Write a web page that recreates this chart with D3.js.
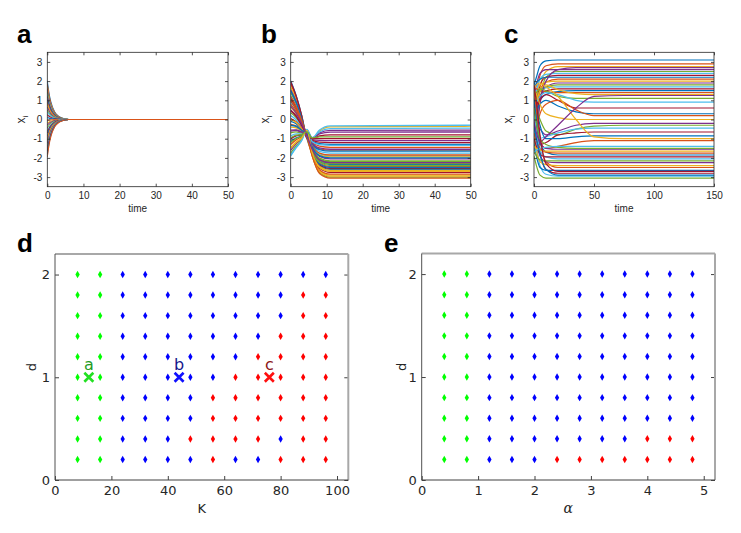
<!DOCTYPE html>
<html>
<head>
<meta charset="utf-8">
<script src="https://cdn.jsdelivr.net/npm/d3@7"></script>
<style>
  body { margin: 0; background: #fff; }
  .tk text { font-family: "Liberation Sans", Arial, sans-serif; font-size: 10px; fill: #262626; }
  .tk line { stroke: #262626; stroke-width: 0.8; }
  .gk text { font-family: "DejaVu Sans", sans-serif; font-size: 13px; fill: #262626; }
  .gk line { stroke: #404040; stroke-width: 1; }
</style>
</head>
<body>
<svg id="fig" width="741" height="533"></svg>
<script>
// panel a : sample times and trajectories x_i(t)
var timeA = [0, 0.5, 1, 2, 3, 4, 6, 50];
var trajA = [
  [2.0, 1.34, 0.9, 0.4, 0.18, 0.08, 0, 0],
  [1.85, 1.24, 0.83, 0.37, 0.17, 0.07, 0, 0],
  [1.7, 1.14, 0.77, 0.34, 0.15, 0.07, 0, 0],
  [1.6, 1.07, 0.72, 0.32, 0.14, 0.06, 0, 0],
  [1.45, 0.97, 0.65, 0.29, 0.13, 0.06, 0, 0],
  [1.3, 0.87, 0.59, 0.26, 0.12, 0.05, 0, 0],
  [1.2, 0.8, 0.54, 0.24, 0.11, 0.05, 0, 0],
  [1.05, 0.7, 0.47, 0.21, 0.09, 0.04, 0, 0],
  [0.9, 0.6, 0.41, 0.18, 0.08, 0.04, 0, 0],
  [0.8, 0.54, 0.36, 0.16, 0.07, 0.03, 0, 0],
  [0.65, 0.44, 0.29, 0.13, 0.06, 0.03, 0, 0],
  [0.5, 0.34, 0.23, 0.1, 0.05, 0.02, 0, 0],
  [0.4, 0.27, 0.18, 0.08, 0.04, 0.02, 0, 0],
  [0.25, 0.17, 0.11, 0.05, 0.02, 0.01, 0, 0],
  [0.1, 0.07, 0.05, 0.02, 0.01, 0, 0, 0],
  [-0.05, -0.03, -0.02, -0.01, 0, 0, 0, 0],
  [-0.2, -0.13, -0.09, -0.04, -0.02, -0.01, 0, 0],
  [-0.3, -0.2, -0.14, -0.06, -0.03, -0.01, 0, 0],
  [-0.45, -0.3, -0.2, -0.09, -0.04, -0.02, 0, 0],
  [-0.6, -0.4, -0.27, -0.12, -0.05, -0.02, 0, 0],
  [-0.7, -0.47, -0.32, -0.14, -0.06, -0.03, 0, 0],
  [-0.85, -0.57, -0.38, -0.17, -0.08, -0.03, 0, 0],
  [-1.0, -0.67, -0.45, -0.2, -0.09, -0.04, 0, 0],
  [-1.1, -0.74, -0.5, -0.22, -0.1, -0.04, 0, 0],
  [-1.25, -0.84, -0.56, -0.25, -0.11, -0.05, 0, 0],
  [-1.4, -0.94, -0.63, -0.28, -0.13, -0.06, 0, 0],
  [-1.5, -1.0, -0.68, -0.3, -0.14, -0.06, 0, 0],
  [-1.65, -1.1, -0.74, -0.33, -0.15, -0.07, 0, 0],
  [-1.8, -1.2, -0.81, -0.36, -0.16, -0.07, 0, 0],
  [-1.95, -1.31, -0.88, -0.39, -0.18, -0.08, 0, 0]
];

// panel b
var timeB = [0, 1.5, 3, 4.5, 6, 8, 11, 50];
var trajB = [
  [2.0, 1.25, 0.25, -0.99, -1.72, -2.41, -2.6, -2.6],
  [1.85, 1.15, 0.2, -0.97, -1.27, -1.53, -1.6, -1.6],
  [1.7, 1.04, 0.15, -0.95, -1.86, -2.67, -2.9, -2.9],
  [1.55, 0.94, 0.09, -0.94, -0.95, -0.7, -0.57, -0.55],
  [1.4, 0.83, 0.04, -0.92, -1.54, -2.06, -2.2, -2.2],
  [1.25, 0.73, -0.01, -0.9, -1.41, -1.79, -1.9, -1.9],
  [1.1, 0.62, -0.07, -0.88, -1.79, -2.54, -2.75, -2.75],
  [0.95, 0.52, -0.12, -0.86, -1.14, -1.26, -1.3, -1.3],
  [0.8, 0.41, -0.17, -0.85, -1.65, -2.28, -2.45, -2.45],
  [0.65, 0.31, -0.22, -0.83, -1.0, -0.6, -0.38, -0.35],
  [0.5, 0.2, -0.28, -0.81, -1.47, -1.92, -2.05, -2.05],
  [0.35, 0.1, -0.33, -0.79, -1.9, -2.76, -3.0, -3.0],
  [0.2, -0.01, -0.38, -0.77, -1.34, -1.66, -1.75, -1.75],
  [0.05, -0.12, -0.43, -0.76, -1.0, -0.85, -0.8, -0.8],
  [-0.1, -0.22, -0.49, -0.74, -1.61, -2.19, -2.35, -2.35],
  [-0.25, -0.33, -0.54, -0.72, -1.2, -1.39, -1.45, -1.45],
  [-0.4, -0.43, -0.59, -0.7, -1.77, -2.5, -2.7, -2.7],
  [-0.55, -0.54, -0.64, -0.68, -1.05, -1.09, -1.1, -1.1],
  [-0.7, -0.64, -0.7, -0.67, -1.52, -2.01, -2.15, -2.15],
  [-0.85, -0.75, -0.75, -0.65, -0.98, -0.65, -0.48, -0.45],
  [-1.0, -0.85, -0.8, -0.63, -1.7, -2.36, -2.55, -2.55],
  [-1.15, -0.96, -0.85, -0.61, -1.29, -1.57, -1.65, -1.65],
  [-1.3, -1.06, -0.9, -0.59, -1.83, -2.63, -2.85, -2.85],
  [-1.45, -1.17, -0.96, -0.58, -1.43, -1.84, -1.95, -1.95],
  [-1.6, -1.27, -1.01, -0.56, -0.97, -0.75, -0.66, -0.65],
  [-1.75, -1.38, -1.06, -0.54, -1.59, -2.14, -2.3, -2.3],
  [-1.9, -1.48, -1.12, -0.52, -0.95, -0.55, -0.33, -0.3],
  [1.95, 1.22, 0.23, -0.98, -1.09, -1.18, -1.2, -1.2],
  [1.5, 0.9, 0.08, -0.93, -1.68, -2.32, -2.5, -2.5],
  [1.0, 0.55, -0.1, -0.87, -1.38, -1.75, -1.85, -1.85],
  [0.0, -0.15, -0.45, -0.75, -1.88, -2.71, -2.95, -2.95],
  [-0.6, -0.57, -0.66, -0.68, -1.25, -1.48, -1.55, -1.55],
  [-1.2, -0.99, -0.87, -0.6, -1.63, -2.23, -2.4, -2.4],
  [-1.85, -1.45, -1.1, -0.53, -1.16, -1.31, -1.35, -1.35],
  [0.45, 0.17, -0.29, -0.8, -1.0, -1.0, -1.0, -1.0],
  [-0.3, -0.36, -0.56, -0.71, -1.45, -1.88, -2.0, -2.0],
  [1.2, 0.69, -0.03, -0.89, -1.92, -2.81, -3.05, -3.05],
  [-1.5, -1.2, -0.98, -0.57, -1.74, -2.45, -2.65, -2.65],
  [0.7, 0.34, -0.2, -0.83, -1.56, -2.1, -2.25, -2.25],
  [-0.95, -0.82, -0.78, -0.64, -0.96, -0.91, -0.9, -0.9]
];

// panel c
var timeC = [0, 2, 5, 10, 20, 35, 50, 75, 150];
var trajC = [
  [1.8, 2.2, 2.8, 3.05, 3.1, 3.1, 3.1, 3.1, 3.1],
  [0.5, 1.2, 2.3, 2.8, 2.9, 2.9, 2.9, 2.9, 2.9],
  [-0.8, 0.2, 1.6, 2.5, 2.75, 2.75, 2.75, 2.75, 2.75],
  [1.2, 1.8, 2.4, 2.6, 2.6, 2.6, 2.6, 2.6, 2.6],
  [-1.5, -0.5, 1.0, 2.2, 2.5, 2.5, 2.5, 2.5, 2.5],
  [0.9, 1.5, 2.1, 2.35, 2.4, 2.4, 2.4, 2.4, 2.4],
  [0.2, 0.8, 1.8, 2.2, 2.3, 2.3, 2.3, 2.3, 2.3],
  [1.6, 1.9, 2.1, 2.2, 2.2, 2.2, 2.2, 2.2, 2.2],
  [-0.3, 0.6, 1.5, 1.95, 2.1, 2.1, 2.1, 2.1, 2.1],
  [1.0, 1.4, 1.8, 1.95, 2.0, 2.0, 2.0, 2.0, 2.0],
  [-1.1, 0.0, 1.1, 1.7, 1.9, 1.9, 1.9, 1.9, 1.9],
  [0.7, 1.1, 1.5, 1.7, 1.8, 1.8, 1.8, 1.8, 1.8],
  [1.4, 1.5, 1.6, 1.65, 1.7, 1.7, 1.7, 1.7, 1.7],
  [0.1, 0.7, 1.2, 1.5, 1.6, 1.6, 1.6, 1.6, 1.6],
  [-0.6, 0.2, 1.0, 1.3, 1.45, 1.5, 1.5, 1.5, 1.5],
  [1.7, 1.6, 1.5, 1.45, 1.4, 1.4, 1.4, 1.4, 1.4],
  [0.4, 0.9, 1.5, 1.8, 1.55, 1.35, 1.3, 1.3, 1.3],
  [-1.8, -0.8, 0.8, 2.0, 2.6, 2.7, 2.7, 2.7, 2.7],
  [1.3, 1.4, 1.6, 1.5, 1.2, 1.1, 1.1, 1.1, 1.1],
  [0.6, 0.9, 1.2, 1.4, 1.3, 1.0, 0.9, 0.9, 0.9],
  [-0.2, 0.4, 1.0, 1.3, 1.0, 0.6, 0.6, 0.6, 0.6],
  [0.3, 0.5, 0.8, 1.0, 0.7, 0.4, 0.3, 0.3, 0.3],
  [-1.3, -0.5, 0.3, 0.8, 1.0, 0.5, 0.2, 0.2, 0.2],
  [1.5, 1.3, 0.8, 0.3, 0.1, 0.0, 0.0, 0.0, 0.0],
  [-0.4, -0.3, -0.5, -0.8, -0.6, -0.3, -0.2, -0.2, -0.2],
  [0.8, 0.5, 0.0, -0.6, -0.8, -0.5, -0.35, -0.3, -0.3],
  [-1.6, -1.2, -1.0, -0.9, -0.7, -0.5, -0.45, -0.45, -0.45],
  [-0.9, -1.1, -1.3, -1.2, -0.8, -0.7, -0.65, -0.65, -0.65],
  [1.1, 0.6, -0.3, -1.0, -1.0, -0.9, -0.85, -0.85, -0.85],
  [-0.1, -0.5, -1.2, -1.5, -1.4, -1.2, -1.1, -1.1, -1.1],
  [1.6, 1.8, 1.9, 1.7, 1.2, 0.0, -0.9, -1.0, -1.0],
  [-1.0, -1.3, -1.2, -0.9, -0.3, 0.6, 1.2, 1.25, 1.25],
  [-1.9, -2.4, -2.9, -3.05, -3.05, -3.05, -3.05, -3.05, -3.05],
  [-0.5, -1.3, -2.4, -2.85, -2.95, -2.95, -2.95, -2.95, -2.95],
  [0.8, -0.2, -1.7, -2.6, -2.8, -2.8, -2.8, -2.8, -2.8],
  [-1.2, -1.9, -2.5, -2.65, -2.65, -2.65, -2.65, -2.65, -2.65],
  [1.5, 0.5, -1.0, -2.2, -2.5, -2.5, -2.5, -2.5, -2.5],
  [-0.9, -1.6, -2.2, -2.35, -2.4, -2.4, -2.4, -2.4, -2.4],
  [-0.2, -0.9, -1.9, -2.2, -2.25, -2.25, -2.25, -2.25, -2.25],
  [-1.6, -1.9, -2.1, -2.15, -2.15, -2.15, -2.15, -2.15, -2.15],
  [0.3, -0.6, -1.6, -1.95, -2.05, -2.05, -2.05, -2.05, -2.05],
  [-1.0, -1.4, -1.8, -1.95, -1.95, -1.95, -1.95, -1.95, -1.95],
  [1.0, 0.0, -1.2, -1.7, -1.85, -1.85, -1.85, -1.85, -1.85],
  [-0.7, -1.1, -1.5, -1.7, -1.75, -1.75, -1.75, -1.75, -1.75],
  [-1.4, -1.5, -1.6, -1.65, -1.65, -1.65, -1.65, -1.65, -1.65],
  [-0.1, -0.7, -1.2, -1.5, -1.55, -1.55, -1.55, -1.55, -1.55],
  [0.6, -0.2, -1.0, -1.3, -1.45, -1.5, -1.5, -1.5, -1.5],
  [-1.7, -1.6, -1.5, -1.45, -1.4, -1.4, -1.4, -1.4, -1.4],
  [1.8, 0.9, -0.8, -2.3, -2.7, -2.7, -2.7, -2.7, -2.7],
  [-0.4, -1.0, -1.8, -2.6, -2.9, -2.9, -2.9, -2.9, -2.9]
];

var lineColors = ["#0072bd", "#d95319", "#edb120", "#7e2f8e", "#77ac30", "#4dbeee", "#a2142f"];

// panels d and e : parameter grids, rows from d = 2.0 down to d = 0.2
var gridK = [8, 16, 24, 32, 40, 48, 56, 64, 72, 80, 88, 96];
var gridAlpha = [0.4, 0.8, 1.2, 1.6, 2.0, 2.4, 2.8, 3.2, 3.6, 4.0, 4.4, 4.8];
var gridD = [2.0, 1.8, 1.6, 1.4, 1.2, 1.0, 0.8, 0.6, 0.4, 0.2];
var stateD = [
  "GGBBBBBBBBBB",
  "GGBBBBBBBBRR",
  "GGBBBBBBBBRR",
  "GGBBBBBBBRRR",
  "GGBBBBBBRRRR",
  "GGBBBBBRRRRR",
  "GGBBBBRRRRRR",
  "GGBBBBRRRRRR",
  "GGBBBRRRRBRR",
  "GGBBBBRBBRRR"
];
var stateE = [
  "GGBBBBBBBBBB",
  "GGBBBBBBBBBB",
  "GGBBBBBBBBBB",
  "GGBBBBBBBBBB",
  "GGBBBBBBBBBB",
  "GGBBBBBBBBBB",
  "GGBBBBBBBBBB",
  "GGBBBBBBBBBB",
  "GGBBBBBBBRRR",
  "GGBBBRRRRRRR"
];
var pickedK = [12, 44, 76];
var pickedD = [1, 1, 1];
var pickedName = ["a", "b", "c"];
var pickedState = ["G", "B", "R"];

var dotColor = { G: "#00ff00", B: "#0000ff", R: "#ff0000" };
var crossColor = { G: "#22e022", B: "#1010ff", R: "#ff1010" };
var nameColor = { G: "#249b24", B: "#16168c", R: "#8c1616" };

var svg = d3.select("#fig");
var plain = function(v) { return String(v); };

function panelLetter(t, x, y) {
  svg.append("text").attr("x", x).attr("y", y).text(t)
    .style("font-family", "'Liberation Sans', Arial, sans-serif")
    .style("font-weight", "bold").style("font-size", "26px").attr("fill", "#000");
}

function drawTraj(o) {
  var x = d3.scaleLinear().domain([0, o.xmax]).range([o.x0, o.x1]);
  var y = d3.scaleLinear().domain([-3.5, 3.5]).range([o.y1, o.y0]);
  var id = "clip" + o.letter;
  svg.append("clipPath").attr("id", id).append("rect")
    .attr("x", o.x0).attr("y", o.y0).attr("width", o.x1 - o.x0).attr("height", o.y1 - o.y0);

  var line = d3.line()
    .x(function(d, i) { return x(o.times[i]); })
    .y(function(d) { return y(d); })
    .curve(d3.curveMonotoneX);

  svg.append("g").attr("clip-path", "url(#" + id + ")")
    .selectAll("path").data(o.data).enter().append("path")
    .attr("d", line)
    .attr("fill", "none")
    .attr("stroke", function(d, i) { return lineColors[i % lineColors.length]; })
    .attr("stroke-width", o.lw);

  var yt = [-3, -2, -1, 0, 1, 2, 3];
  var ax = svg.append("g").attr("class", "tk");
  ax.append("g").attr("transform", "translate(" + o.x0 + ",0)")
    .call(d3.axisLeft(y).tickValues(yt).tickSize(-3).tickPadding(5).tickFormat(plain));
  ax.append("g").attr("transform", "translate(" + o.x1 + ",0)")
    .call(d3.axisRight(y).tickValues(yt).tickSize(-3).tickFormat(""));
  ax.append("g").attr("transform", "translate(0," + o.y1 + ")")
    .call(d3.axisBottom(x).tickValues(o.xticks).tickSize(-3).tickPadding(5).tickFormat(plain));
  ax.append("g").attr("transform", "translate(0," + o.y0 + ")")
    .call(d3.axisTop(x).tickValues(o.xticks).tickSize(-3).tickFormat(""));
  ax.selectAll(".domain").remove();

  svg.append("rect").attr("x", o.x0).attr("y", o.y0)
    .attr("width", o.x1 - o.x0).attr("height", o.y1 - o.y0)
    .attr("fill", "none").attr("stroke", "#262626").attr("stroke-width", 0.8);

  svg.append("text").attr("x", (o.x0 + o.x1) / 2).attr("y", o.y1 + 25)
    .attr("text-anchor", "middle").text("time")
    .style("font-family", "'Liberation Sans', Arial, sans-serif").style("font-size", "10px").attr("fill", "#262626");

  var yl = svg.append("text")
    .attr("transform", "translate(" + o.ylx + "," + ((o.y0 + o.y1) / 2) + ") rotate(-90)")
    .attr("text-anchor", "middle")
    .style("font-family", "'Liberation Sans', Arial, sans-serif").style("font-size", "12px").attr("fill", "#262626");
  yl.append("tspan").text("x");
  yl.append("tspan").attr("dy", 3).style("font-size", "8px").text("i");

  panelLetter(o.letter, o.lx, 43);
}

drawTraj({ letter: "a", x0: 47.3, x1: 228, y0: 52.3, y1: 186.7, xmax: 50, xticks: [0, 10, 20, 30, 40, 50], times: timeA, data: trajA, ylx: 25, lx: 17, lw: 1.1 });
drawTraj({ letter: "b", x0: 290.7, x1: 470.7, y0: 52.3, y1: 186.7, xmax: 50, xticks: [0, 10, 20, 30, 40, 50], times: timeB, data: trajB, ylx: 269, lx: 261, lw: 1.3 });
drawTraj({ letter: "c", x0: 534, x1: 714, y0: 52.3, y1: 186.7, xmax: 150, xticks: [0, 50, 100, 150], times: timeC, data: trajC, ylx: 512, lx: 504, lw: 1.2 });

function drawGrid(o) {
  var x = d3.scaleLinear().domain([0, o.xmax]).range([o.x0, o.x1]);
  var y = d3.scaleLinear().domain([0, 2.2]).range([o.y1, o.y0]);

  var ax = svg.append("g").attr("class", "gk");
  ax.append("g").attr("transform", "translate(" + o.x0 + ",0)")
    .call(d3.axisLeft(y).tickValues([0, 1, 2]).tickSize(-4).tickPadding(5).tickFormat(plain));
  ax.append("g").attr("transform", "translate(" + o.x1 + ",0)")
    .call(d3.axisRight(y).tickValues([0, 1, 2]).tickSize(-4).tickFormat(""));
  ax.append("g").attr("transform", "translate(0," + o.y1 + ")")
    .call(d3.axisBottom(x).tickValues(o.xticks).tickSize(-4).tickPadding(6).tickFormat(plain));
  ax.selectAll(".domain").remove();

  svg.append("line").attr("x1", o.x0).attr("x2", o.x1).attr("y1", o.y0).attr("y2", o.y0)
    .attr("stroke", "#a8a8a8").attr("stroke-width", 2);
  svg.append("line").attr("x1", o.x1).attr("x2", o.x1).attr("y1", o.y0).attr("y2", o.y1)
    .attr("stroke", "#a8a8a8").attr("stroke-width", 2);
  svg.append("line").attr("x1", o.x0).attr("x2", o.x0).attr("y1", o.y0).attr("y2", o.y1)
    .attr("stroke", "#505050").attr("stroke-width", 1);
  svg.append("line").attr("x1", o.x0).attr("x2", o.x1).attr("y1", o.y1).attr("y2", o.y1)
    .attr("stroke", "#404040").attr("stroke-width", 1);

  var pts = [];
  gridD.forEach(function(dv, r) {
    o.xs.forEach(function(xv, c) {
      pts.push({ x: xv, d: dv, s: o.states[r].charAt(c) });
    });
  });
  svg.append("g").selectAll("path").data(pts).enter().append("path")
    .attr("d", d3.symbol().type(d3.symbolDiamond).size(16))
    .attr("transform", function(p) { return "translate(" + x(p.x) + "," + y(p.d) + ")"; })
    .attr("fill", function(p) { return dotColor[p.s]; });

  if (o.picked) {
    pickedK.forEach(function(k, i) {
      var cx = x(k), cy = y(pickedD[i]);
      var s = pickedState[i];
      svg.append("path")
        .attr("d", "M" + (cx - 4.5) + "," + (cy - 4.5) + "L" + (cx + 4.5) + "," + (cy + 4.5) +
                   "M" + (cx - 4.5) + "," + (cy + 4.5) + "L" + (cx + 4.5) + "," + (cy - 4.5))
        .attr("stroke", crossColor[s]).attr("stroke-width", 2.6).attr("fill", "none");
      svg.append("text").attr("x", cx).attr("y", cy - 7).attr("text-anchor", "middle")
        .text(pickedName[i])
        .style("font-family", "'DejaVu Sans', sans-serif").style("font-size", "16px")
        .attr("fill", nameColor[s]);
    });
  }

  var xl = svg.append("text").attr("x", (o.x0 + o.x1) / 2).attr("y", 513)
    .attr("text-anchor", "middle").attr("fill", "#262626").text(o.xlabel);
  if (o.xlabel === "α") {
    xl.style("font-family", "'DejaVu Serif', serif").style("font-style", "italic").style("font-size", "14px");
  } else {
    xl.style("font-family", "'DejaVu Sans', sans-serif").style("font-size", "13px");
  }

  svg.append("text")
    .attr("transform", "translate(" + o.ylx + "," + ((o.y0 + o.y1) / 2) + ") rotate(-90)")
    .attr("text-anchor", "middle").attr("dy", "0.35em").attr("fill", "#262626")
    .style("font-family", "'DejaVu Sans', sans-serif").style("font-size", "13px").text("d");

  panelLetter(o.letter, o.lx, 252);
}

drawGrid({ letter: "d", x0: 55, x1: 348.3, y0: 254, y1: 480, xmax: 104, xticks: [0, 20, 40, 60, 80, 100],
  xs: gridK, states: stateD, picked: true, xlabel: "K", ylx: 31, lx: 17 });
drawGrid({ letter: "e", x0: 421.7, x1: 715, y0: 253.5, y1: 480, xmax: 5.2, xticks: [0, 1, 2, 3, 4, 5],
  xs: gridAlpha, states: stateE, picked: false, xlabel: "α", ylx: 401.5, lx: 384 });
</script>
</body>
</html>
